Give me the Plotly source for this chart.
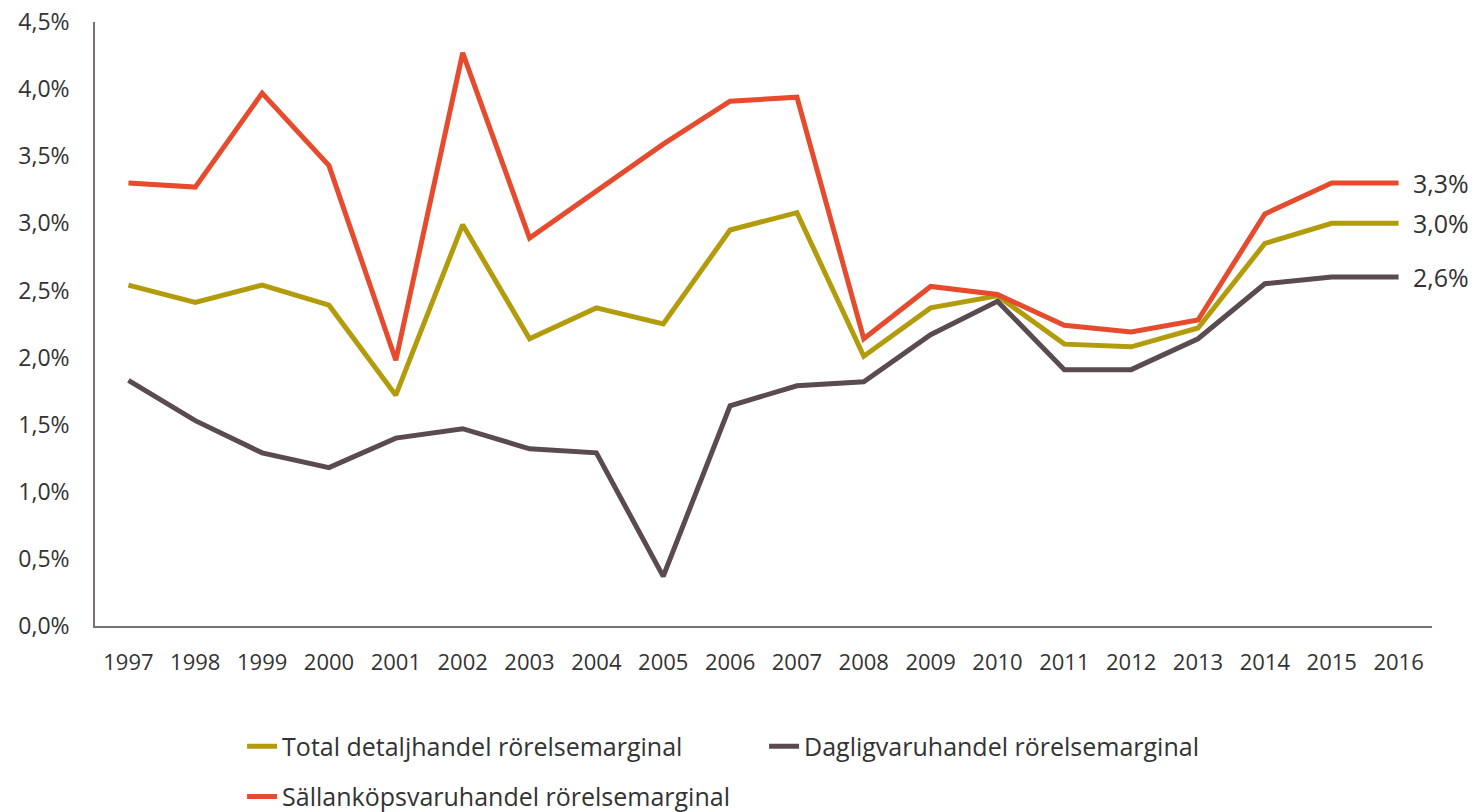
import plotly.graph_objects as go

years = [str(y) for y in range(1997, 2017)]
total = [2.54, 2.41, 2.54, 2.39, 1.72, 2.99, 2.14, 2.37, 2.25, 2.95, 3.08, 2.01, 2.37, 2.46, 2.10, 2.08, 2.22, 2.85, 3.00, 3.00]
daglig = [1.83, 1.53, 1.29, 1.18, 1.40, 1.47, 1.32, 1.29, 0.37, 1.64, 1.79, 1.82, 2.17, 2.42, 1.91, 1.91, 2.14, 2.55, 2.60, 2.60]
sallan = [3.30, 3.27, 3.97, 3.43, 1.98, 4.27, 2.89, 3.24, 3.59, 3.91, 3.94, 2.14, 2.53, 2.47, 2.24, 2.19, 2.28, 3.07, 3.30, 3.30]

y_tickvals = [0, 0.5, 1.0, 1.5, 2.0, 2.5, 3.0, 3.5, 4.0, 4.5]
y_ticktext = ["0,0%", "0,5%", "1,0%", "1,5%", "2,0%", "2,5%", "3,0%", "3,5%", "4,0%", "4,5%"]

names = ["Total detaljhandel rörelsemarginal", "Dagligvaruhandel rörelsemarginal", "Sällanköpsvaruhandel rörelsemarginal"]
colors = ["#B39C0C", "#5A4B4E", "#E54B2C"]
series = [total, daglig, sallan]
legends = ["legend", "legend", "legend2"]
end_labels = ["3,0%", "2,6%", "3,3%"]

FONT = "Open Sans"
TXT = "#333333"

fig = go.Figure()
for name, vals, col, lg in zip(names, series, colors, legends):
    fig.add_trace(go.Scatter(x=years, y=vals, mode="lines", name=name,
                             line=dict(color=col, width=5), legend=lg))

for vals, lab in zip(series, end_labels):
    fig.add_annotation(x=len(years) - 1, y=vals[-1], xref="x", yref="y", text=lab,
                       showarrow=False, xanchor="left", yanchor="middle", xshift=12,
                       font=dict(family=FONT, size=25, color=TXT))

fig.update_layout(
    width=1478, height=812,
    margin=dict(l=87, r=54, t=14, b=194, autoexpand=False),
    plot_bgcolor="white", paper_bgcolor="white",
    font=dict(family=FONT, size=22, color=TXT),
    legend=dict(orientation="h", x=0.110, xanchor="left", yref="container", y=0.1187, yanchor="top",
                font=dict(family=FONT, size=25, color=TXT), entrywidth=477,
                itemwidth=30, bgcolor="rgba(0,0,0,0)"),
    legend2=dict(orientation="h", x=0.110, xanchor="left", yref="container", y=0.0571, yanchor="top",
                 font=dict(family=FONT, size=25, color=TXT),
                 itemwidth=30, bgcolor="rgba(0,0,0,0)"),
)
fig.update_xaxes(type="category", range=[-0.5, 19.5], showline=True, linecolor="#7A6F72",
                 linewidth=1.5, showgrid=False, ticks="", tickfont=dict(size=22, color=TXT),
                 ticklabelstandoff=16, ticklabeloverflow="allow")
fig.update_yaxes(range=[0, 4.5], tickmode="array", tickvals=y_tickvals, ticktext=y_ticktext,
                 showline=True, linecolor="#7A6F72", linewidth=1.5, showgrid=False,
                 zeroline=False, ticks="", tickfont=dict(size=23, color=TXT),
                 ticklabelstandoff=19, ticklabeloverflow="allow")

fig.write_html("out.html")
